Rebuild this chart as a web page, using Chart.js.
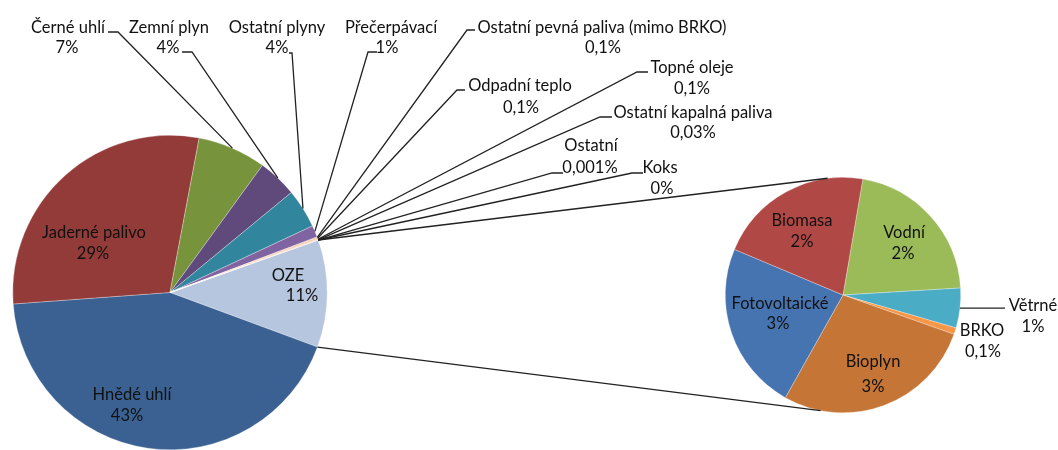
<!DOCTYPE html>
<html lang="cs">
<head>
<meta charset="UTF-8">
<title>Struktura výroby elektřiny podle paliv</title>
<script src="https://cdn.jsdelivr.net/npm/chart.js"></script>
<style>
    html, body { margin: 0; padding: 0; background: #fff; overflow: hidden; }
    .wrap { position: relative; width: 1058px; height: 450px; }
    .wrap canvas { position: absolute; left: 0; top: 0; }
</style>
</head>
<body>
<div class="wrap">
    <canvas id="mainPie" width="1058" height="450"></canvas>
    <canvas id="ozePie" width="1058" height="450"></canvas>
</div>
<script>
// hlavni kolac - podily paliv v %
const mainLabels = ['OZE', 'Hnědé uhlí', 'Jaderné palivo', 'Černé uhlí', 'Zemní plyn', 'Ostatní plyny',
    'Přečerpávací', 'Ostatní pevná paliva (mimo BRKO)', 'Odpadní teplo', 'Topné oleje',
    'Ostatní kapalná paliva', 'Ostatní', 'Koks'];
const mainValues = [11, 43, 29, 7, 4, 4, 1.2, 0.1, 0.1, 0.1, 0.03, 0.001, 0];
const mainColors = ['#B7C6DF', '#3A6191', '#933B39', '#77933C', '#604A7B', '#31859C',
    '#8064A2', '#E6B9B8', '#F0A868', '#FAC090', '#D99694', '#F79646', '#E6B9B8'];

// druhy kolac - rozpad OZE v %
const ozeLabels = ['Vodní', 'Větrné', 'BRKO', 'Bioplyn', 'Fotovoltaické', 'Biomasa'];
const ozeValues = [2.35, 0.6, 0.1, 3.05, 2.55, 2.35];
const ozeColors = ['#9BBB59', '#4BACC6', '#F79646', '#C57535', '#4674B1', '#B04846'];

// umisteni popisku: x = stred textu, y1/y2 = uctari radku, tail = [zacatek, koleno, y] vodici cary
const mainLabelPos = {
    'OZE':            { x: 288, y1: 281, y2: 301, vx: 302 },
    'Hnědé uhlí':     { x: 132, y1: 400, y2: 421, vx: 127 },
    'Jaderné palivo': { x: 94,  y1: 238, y2: 259, vx: 93 },
    'Černé uhlí':     { x: 68,  y1: 33, y2: 53, vx: 67,  tail: [108, 118, 32] },
    'Zemní plyn':     { x: 169, y1: 33, y2: 53, vx: 168, tail: [182, 192, 52] },
    'Ostatní plyny':  { x: 277, y1: 33, y2: 53, vx: 277, tail: [289, 292, 53] },
    'Přečerpávací':   { x: 391, y1: 33, y2: 53, vx: 387, tail: [377, 368, 52] },
    'Ostatní pevná paliva (mimo BRKO)': { x: 602, y1: 33, y2: 53, vx: 603, tail: [475, 467, 30] },
    'Odpadní teplo':  { x: 520, y1: 91, y2: 113, vx: 521, tail: [465, 457, 90] },
    'Topné oleje':    { x: 692, y1: 73, y2: 94, vx: 692, tail: [648, 637, 72] },
    'Ostatní kapalná paliva': { x: 693, y1: 118, y2: 138, vx: 693, tail: [612, 600, 117] },
    'Ostatní':        { x: 591, y1: 151, y2: 173, vx: 590, tail: [563, 552, 173] },
    'Koks':           { x: 660, y1: 173, y2: 194, vx: 662, tail: [643, 632, 173] }
};
const ozeLabelPos = {
    'Vodní':         { x: 904, y1: 238, y2: 259, vx: 903 },
    'Větrné':        { x: 1033, y1: 311, y2: 332, vx: 1033, tail: [1005] },
    'BRKO':          { x: 982, y1: 336, y2: 357, vx: 983 },
    'Bioplyn':       { x: 873, y1: 367, y2: 392, vx: 873 },
    'Fotovoltaické': { x: 780, y1: 309, y2: 329, vx: 778 },
    'Biomasa':       { x: 802, y1: 226, y2: 247, vx: 802 }
};

const FONT = '16.5px Lato';
const TEXT = '#111';
const LINE = '#222';

function pct(v) {
    if (v >= 0.5) return Math.round(v) + '%';
    return String(v).replace('.', ',') + '%';
}

function edgePoint(arc, angle) {
    return [arc.x + Math.cos(angle) * arc.outerRadius, arc.y + Math.sin(angle) * arc.outerRadius];
}

function drawLabels(chart, labels, values, pos) {
    const ctx = chart.ctx;
    const arcs = chart.getDatasetMeta(0).data;
    ctx.save();
    ctx.font = FONT;
    ctx.fillStyle = TEXT;
    ctx.textAlign = 'center';
    ctx.textBaseline = 'alphabetic';
    ctx.strokeStyle = LINE;
    ctx.lineWidth = 1.3;
    labels.forEach((name, i) => {
        const p = pos[name];
        if (!p) return;
        if (p.tail) {
            const arc = arcs[i];
            const mid = (arc.startAngle + arc.endAngle) / 2;
            const a = edgePoint(arc, mid);
            ctx.beginPath();
            if (p.tail.length === 1) {
                ctx.moveTo(a[0], a[1]);
                ctx.lineTo(p.tail[0], a[1]);
            } else {
                ctx.moveTo(p.tail[0], p.tail[2]);
                ctx.lineTo(p.tail[1], p.tail[2]);
                ctx.lineTo(a[0], a[1]);
            }
            ctx.stroke();
        }
        ctx.fillText(name, p.x, p.y1);
        ctx.fillText(pct(values[i]), p.vx, p.y2);
    });
    ctx.restore();
}

const mainChart = new Chart(document.getElementById('mainPie'), {
    type: 'pie',
    data: {
        labels: mainLabels,
        datasets: [{ data: mainValues, backgroundColor: mainColors, borderColor: 'rgba(255,255,255,0.6)', borderWidth: 0.5 }]
    },
    options: {
        responsive: false,
        animation: false,
        rotation: 70.5,
        layout: { padding: { left: 12, top: 135, right: 730, bottom: 0 } },
        plugins: { legend: { display: false }, tooltip: { enabled: false } }
    },
    plugins: [{
        id: 'mainLabels',
        afterDatasetsDraw(chart) { drawLabels(chart, mainLabels, mainValues, mainLabelPos); }
    }]
});

new Chart(document.getElementById('ozePie'), {
    type: 'pie',
    data: {
        labels: ozeLabels,
        datasets: [{ data: ozeValues, backgroundColor: ozeColors, borderColor: 'rgba(255,255,255,0.6)', borderWidth: 0.5 }]
    },
    options: {
        responsive: false,
        animation: false,
        rotation: 9.7,
        layout: { padding: { left: 725, top: 177, right: 97, bottom: 37 } },
        plugins: { legend: { display: false }, tooltip: { enabled: false } }
    },
    plugins: [{
        id: 'ozeLabels',
        afterDatasetsDraw(chart) {
            // spojnice mezi vysecí OZE a druhym kolacem
            const ctx = chart.ctx;
            const oze = mainChart.getDatasetMeta(0).data[0];
            const sub = chart.getDatasetMeta(0).data[0];
            const a1 = edgePoint(oze, oze.startAngle);
            const a2 = edgePoint(oze, oze.endAngle);
            const b1 = edgePoint(sub, -97.5 * Math.PI / 180);
            const b2 = edgePoint(sub, 101 * Math.PI / 180);
            ctx.save();
            ctx.strokeStyle = LINE;
            ctx.lineWidth = 1.3;
            ctx.beginPath();
            ctx.moveTo(a1[0], a1[1]);
            ctx.lineTo(b1[0], b1[1]);
            ctx.moveTo(a2[0], a2[1]);
            ctx.lineTo(b2[0], b2[1]);
            ctx.stroke();
            ctx.restore();
            drawLabels(chart, ozeLabels, ozeValues, ozeLabelPos);
        }
    }]
});
</script>
</body>
</html>
